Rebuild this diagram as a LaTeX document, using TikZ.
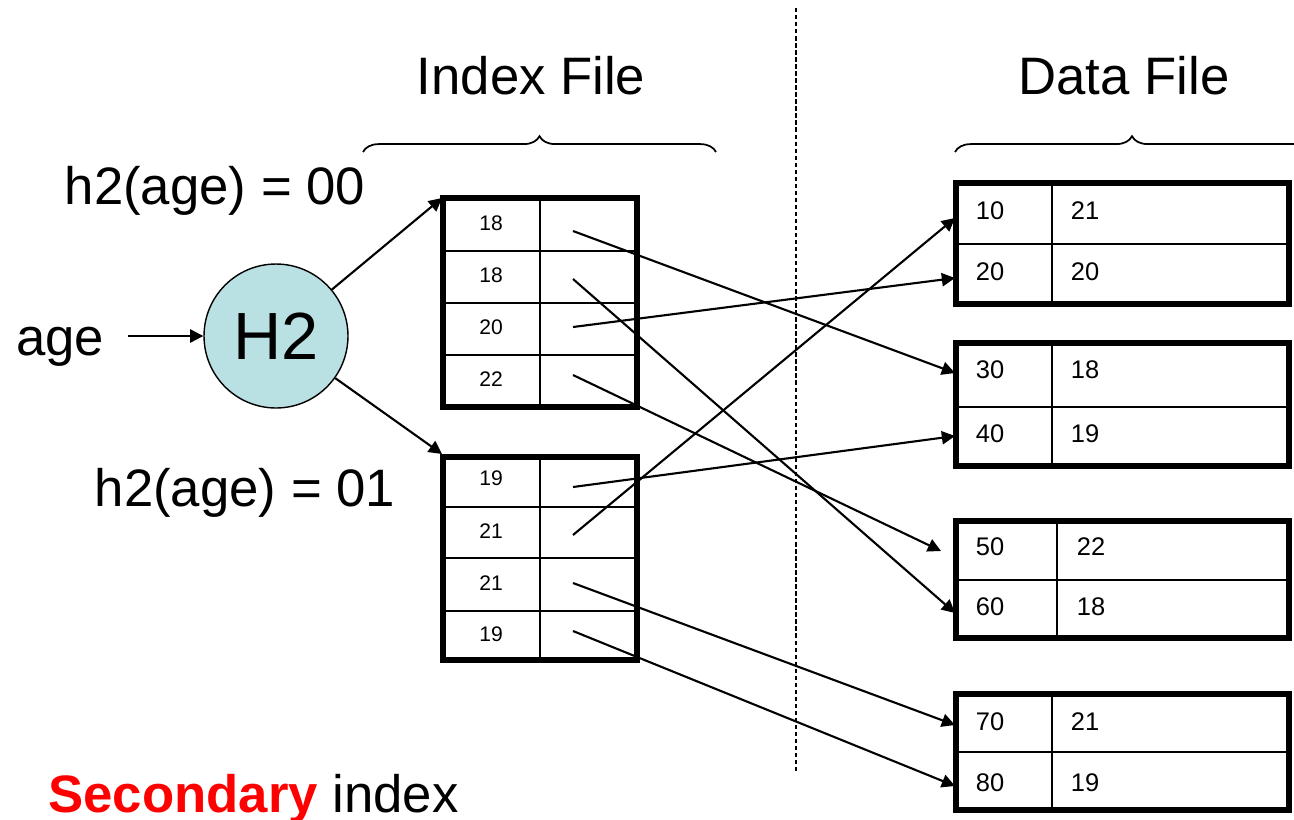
\documentclass[tikz,border=0pt]{standalone}
\usepackage{fontspec}
\setmainfont{Liberation Sans}
\usetikzlibrary{arrows.meta,decorations.pathreplacing}
\definecolor{hashblue}{RGB}{185,224,226}

\begin{document}
\begin{tikzpicture}[x=0.02cm,y=-0.02cm,
    box/.style={line width=2.9pt},
    grid/.style={line width=1.3pt},
    ptr/.style={-{Triangle[length=7.5pt,width=7.5pt]},line width=1.2pt},
    small/.style={font=\fontsize{12}{14}\selectfont},
    num/.style={font=\fontsize{14.5}{17}\selectfont},
    big/.style={font=\fontsize{30}{34}\selectfont},
    brace/.style={decorate,decoration={brace,amplitude=9pt},line width=1pt}]
  \useasboundingbox (0,0) rectangle (1294,819);

  % titles and braces
  \node[big] (idxtitle) at (531,76) {Index File};
  \node[big] (datatitle) at (1124,76) {Data File};
  \draw[brace] (363,152) -- (716,152);
  \draw[brace] (955,152) -- (1309,152);
  \draw[line width=0.8pt,dash pattern=on 2.5pt off 1.5pt] (796,8) -- (796,773);

  % hash function
  \node[big] (age) at (60,347) {age};
  \node[circle,draw,line width=0.8pt,fill=hashblue,minimum size=2.88cm,inner sep=0pt,
        font=\fontsize{38}{40}\selectfont] (h2) at (276,336) {H2};
  \draw[ptr,shorten <=10pt] (age.east |- h2) -- (h2);
  \node[big] (lab00) at (215,191) {h2(age) = 00};
  \node[big] (lab01) at (245,493) {h2(age) = 01};

  % index buckets
  \coordinate (ix1) at (442,198);
  \coordinate (ix2) at (442,454);
  \draw[ptr] (h2) -- (ix1);
  \draw[ptr] (h2) -- (ix2);

  \draw[grid] (540,198) -- (540,407);
  \foreach \y in {251,303,355}
    \draw[grid] (443,\y) -- (637,\y);
  \draw[box] (443,198) rectangle (637,407);
  \foreach \v/\y [count=\i] in {18/223,18/275,20/327,22/379}
    \node[small] (i\i) at (491,\y) {\v};

  \draw[grid] (540,457) -- (540,660);
  \foreach \y in {507,558,611}
    \draw[grid] (443,\y) -- (637,\y);
  \draw[box] (443,457) rectangle (637,660);
  \foreach \v/\y [count=\i from 5] in {19/478,21/531,21/583,19/634}
    \node[small] (i\i) at (491,\y) {\v};

  % pointer starts
  \foreach \y [count=\i] in {231,279,327,375,487,535,583,631}
    \coordinate (p\i) at (573,\y);

  % data file blocks
  \foreach \t/\m/\b/\c in {183/244/304/1052,343/407/466/1052,521/580/638/1057,694/752/810/1052}{
    \draw[grid] (\c,\t) -- (\c,\b);
    \draw[grid] (956,\m) -- (1289,\m);
    \draw[box] (956,\t) rectangle (1289,\b);
  }
  \foreach \k/\v/\y in {10/21/211,20/20/272,30/18/370,40/19/434,70/21/722,80/19/783}{
    \node[num] (k\k) at (990,\y) {\k};
    \node[num] (v\k) at (1085,\y) {\v};
  }
  \node[num] (k50) at (990,547) {50};
  \node[num] (v50) at (1091,547) {22};
  \node[num] (k60) at (990,607) {60};
  \node[num] (v60) at (1091,607) {18};

  % pointer ends
  \coordinate (q10) at (955,218);
  \coordinate (q20) at (955,278);
  \coordinate (q30) at (955,373);
  \coordinate (q40) at (955,436);
  \coordinate (q50) at (941,551);
  \coordinate (q60) at (955,613);
  \coordinate (q70) at (955,725);
  \coordinate (q80) at (955,786);

  \draw[ptr] (p1) -- (q30);
  \draw[ptr] (p2) -- (q60);
  \draw[ptr] (p3) -- (q20);
  \draw[ptr] (p4) -- (q50);
  \draw[ptr] (p5) -- (q40);
  \draw[ptr] (p6) -- (q10);
  \draw[ptr] (p7) -- (q70);
  \draw[ptr] (p8) -- (q80);

  \node[big,anchor=base west,inner sep=0pt] (sec) at (48,812)
    {\textcolor{red}{\textbf{Secondary}} index};
\end{tikzpicture}
\end{document}
